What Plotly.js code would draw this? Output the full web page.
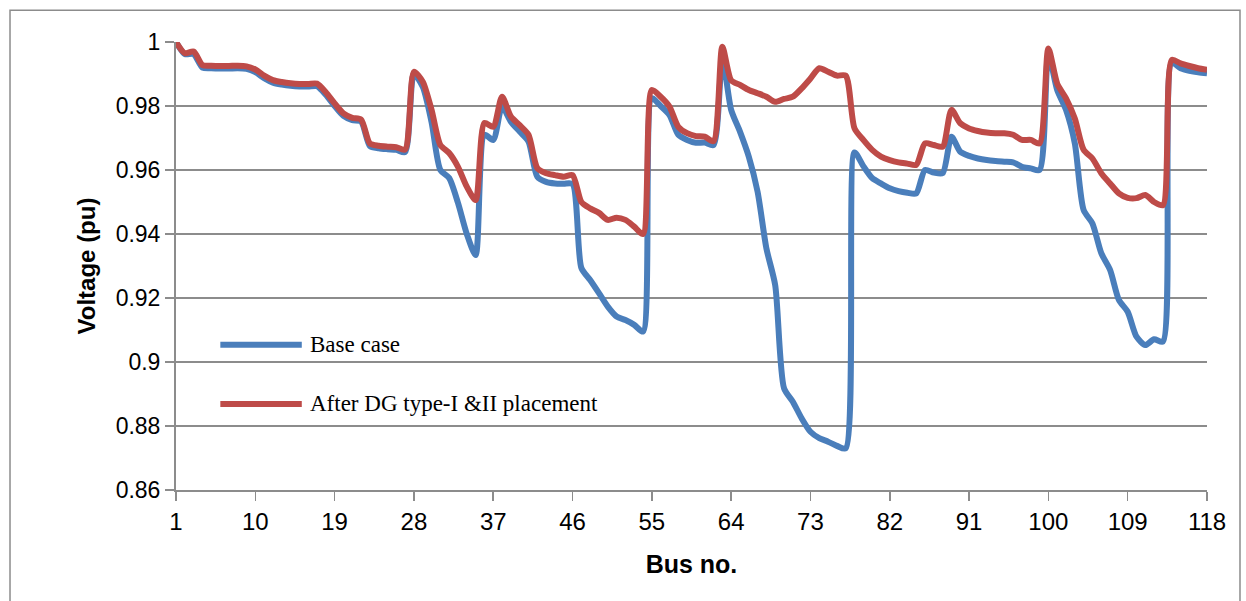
<!DOCTYPE html>
<html>
<head>
<meta charset="utf-8">
<script src="https://cdn.plot.ly/plotly-3.0.1.min.js"></script>
<style>
html,body{margin:0;padding:0;background:#fff;}
#chart{width:1246px;height:601px;}
</style>
</head>
<body>
<div id="chart"></div>
<script>
var busNo = [1,2,3,4,5,6,7,8,9,10,11,12,13,14,15,16,17,18,19,20,21,22,23,24,25,26,27,28,29,30,
31,32,33,34,35,36,37,38,39,40,41,42,43,44,45,46,47,48,49,50,51,52,53,54,55,56,57,58,59,60,
61,62,63,64,65,66,67,68,69,70,71,72,73,74,75,76,77,78,79,80,81,82,83,84,85,86,87,88,89,90,
91,92,93,94,95,96,97,98,99,100,101,102,103,104,105,106,107,108,109,110,111,112,113,114,115,116,117,118];

var baseCase = [1.0,0.9962,0.9962,0.9920,0.9918,0.9917,0.9917,0.9918,0.9916,0.9906,
0.9887,0.9873,0.9867,0.9863,0.9861,0.9861,0.9862,0.9835,0.9800,0.9769,
0.9756,0.9752,0.9675,0.9668,0.9665,0.9663,0.9656,0.9900,0.9860,0.9750,
0.9600,0.9575,0.9497,0.9400,0.9334,0.9710,0.9694,0.9798,0.9751,0.9720,
0.9689,0.9579,0.9563,0.9558,0.9557,0.9556,0.9294,0.9256,0.9215,0.9173,
0.9142,0.9131,0.9116,0.9095,0.9824,0.9800,0.9772,0.9710,0.9694,0.9685,
0.9686,0.9678,0.9950,0.9788,0.9720,0.9642,0.9532,0.9355,0.9240,0.8918,
0.8876,0.8824,0.8782,0.8762,0.8751,0.8738,0.8730,0.9655,0.9612,0.9575,
0.9558,0.9543,0.9534,0.9529,0.9527,0.9600,0.9592,0.9590,0.9704,0.9657,
0.9644,0.9636,0.9631,0.9628,0.9626,0.9624,0.9610,0.9605,0.9600,0.9962,
0.9850,0.9788,0.9683,0.9475,0.9433,0.9340,0.9288,0.9194,0.9157,0.9079,
0.9053,0.9071,0.9064,0.9935,0.9918,0.9910,0.9905,0.9902];

var afterDG = [1.0,0.9965,0.9970,0.9928,0.9926,0.9925,0.9925,0.9926,0.9924,0.9914,
0.9895,0.9881,0.9875,0.9871,0.9869,0.9869,0.9870,0.9843,0.9808,0.9777,
0.9763,0.9758,0.9683,0.9676,0.9673,0.9671,0.9664,0.9907,0.9876,0.9788,
0.9678,0.9653,0.9610,0.9548,0.9506,0.9747,0.9735,0.9829,0.9767,0.9740,
0.9710,0.9606,0.9590,0.9584,0.9579,0.9584,0.9500,0.9480,0.9466,0.9444,
0.9451,0.9444,0.9423,0.9400,0.9850,0.9829,0.9798,0.9735,0.9715,0.9706,
0.9704,0.9690,0.9985,0.9880,0.9866,0.9850,0.9840,0.9829,0.9813,0.9822,
0.9829,0.9855,0.9886,0.9918,0.9907,0.9895,0.9895,0.9730,0.9694,0.9663,
0.9642,0.9631,0.9624,0.9620,0.9616,0.9683,0.9678,0.9673,0.9788,0.9746,
0.9730,0.9722,0.9717,0.9715,0.9715,0.9710,0.9694,0.9694,0.9683,0.9980,
0.9870,0.9824,0.9761,0.9663,0.9636,0.9590,0.9558,0.9527,0.9513,0.9512,
0.9522,0.9500,0.9490,0.9944,0.9933,0.9925,0.9918,0.9913];

var xTickVals = [1,10,19,28,37,46,55,64,73,82,91,100,109,118];
var yTickVals = [0.86,0.88,0.9,0.92,0.94,0.96,0.98,1];
var yTickText = ['0.86','0.88','0.9','0.92','0.94','0.96','0.98','1'];
var seriesNames = ['Base case','After DG type-I &II placement'];
var blue = '#4A7EBB', red = '#BE4B48', grid = '#8C8C8C';

var traces = [
  {x: busNo, y: baseCase, name: seriesNames[0], type: 'scatter', mode: 'lines',
   line: {color: blue, width: 6, shape: 'spline', smoothing: 0.7}},
  {x: busNo, y: afterDG, name: seriesNames[1], type: 'scatter', mode: 'lines',
   line: {color: red, width: 6, shape: 'spline', smoothing: 0.7}}
];

var layout = {
  width: 1246, height: 601,
  margin: {l: 176, r: 39, t: 42, b: 111},
  paper_bgcolor: '#fff', plot_bgcolor: '#fff',
  showlegend: false,
  xaxis: {
    range: [1, 118], tickvals: xTickVals, ticktext: xTickVals.map(String),
    showgrid: false, zeroline: false,
    showline: true, linecolor: grid, linewidth: 2,
    ticks: 'outside', ticklen: 9, tickwidth: 1.5, tickcolor: grid,
    tickfont: {family: 'Liberation Sans Narrow, Arial Narrow, sans-serif', size: 24, color: '#000'},
    title: {text: 'Bus no.', font: {family: 'Liberation Sans Narrow, Arial Narrow, sans-serif', size: 25, color: '#000', weight: 'bold'}, standoff: 22}
  },
  yaxis: {
    range: [0.86, 1], tickvals: yTickVals, ticktext: yTickText,
    showgrid: true, gridcolor: grid, gridwidth: 2, zeroline: false,
    showline: true, linecolor: grid, linewidth: 2,
    ticks: 'outside', ticklen: 9, tickwidth: 1.5, tickcolor: grid,
    tickfont: {family: 'Liberation Sans, Arial, sans-serif', size: 23, color: '#000'},
    title: {text: 'Voltage (pu)', font: {family: 'Liberation Sans, Arial, sans-serif', size: 24, color: '#000', weight: 'bold'}, standoff: 13}
  },
  shapes: [
    {type: 'rect', xref: 'paper', yref: 'paper', x0: -0.161, x1: 1.032, y0: -0.27, y1: 1.071,
     line: {color: '#8C8C8C', width: 1.5}, fillcolor: 'rgba(0,0,0,0)', layer: 'below'},
    {type: 'line', xref: 'paper', yref: 'paper', x0: 0.043, x1: 0.122, y0: 0.324, y1: 0.324,
     line: {color: blue, width: 6}},
    {type: 'line', xref: 'paper', yref: 'paper', x0: 0.043, x1: 0.122, y0: 0.192, y1: 0.192,
     line: {color: red, width: 6}}
  ],
  annotations: [
    {xref: 'paper', yref: 'paper', x: 0.128, y: 0.324, xanchor: 'left', yanchor: 'middle', showarrow: false,
     text: seriesNames[0], font: {family: 'Liberation Serif, Times New Roman, serif', size: 23, color: '#000'}},
    {xref: 'paper', yref: 'paper', x: 0.128, y: 0.192, xanchor: 'left', yanchor: 'middle', showarrow: false,
     text: seriesNames[1], font: {family: 'Liberation Serif, Times New Roman, serif', size: 23, color: '#000'}}
  ]
};

Plotly.newPlot('chart', traces, layout, {displayModeBar: false, staticPlot: true});
</script>
</body>
</html>
